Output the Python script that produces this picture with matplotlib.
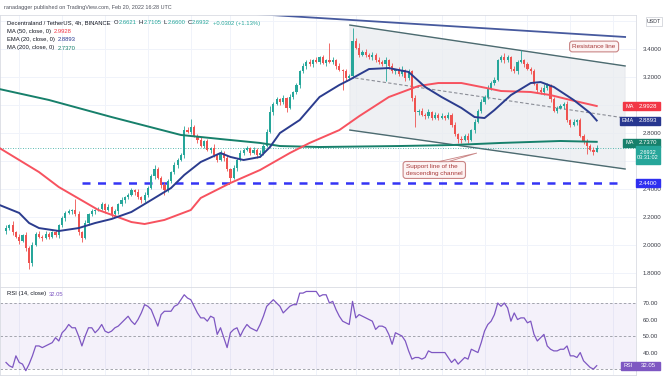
import matplotlib
matplotlib.use("Agg")
import matplotlib.pyplot as plt
from matplotlib.patches import Rectangle, Polygon

plt.rcParams['font.family'] = ['Liberation Sans', 'DejaVu Sans']

# ---- data (4h candles) ----
first_open = 2.10
closes = [2.12, 2.14, 2.09, 2.06, 2.03, 2.07, 1.98, 1.87, 2.00, 2.08,
          2.06, 2.05, 2.08, 2.06, 2.09, 2.07, 2.14, 2.19, 2.23, 2.24,
          2.25, 2.22, 2.09, 2.05, 2.16, 2.22, 2.24, 2.25, 2.26, 2.29,
          2.25, 2.27, 2.22, 2.24, 2.29, 2.32, 2.34, 2.36, 2.39, 2.38,
          2.34, 2.32, 2.36, 2.41, 2.49, 2.54, 2.48, 2.43, 2.39, 2.46,
          2.52, 2.57, 2.61, 2.64, 2.82, 2.81, 2.84, 2.78, 2.75, 2.71,
          2.74, 2.68, 2.69, 2.64, 2.61, 2.66, 2.62, 2.54, 2.48, 2.55,
          2.61, 2.66, 2.68, 2.69, 2.66, 2.68, 2.64, 2.66, 2.71, 2.81,
          2.95, 3.01, 3.04, 3.02, 3.05, 2.98, 3.06, 3.09, 3.14, 3.24,
          3.28, 3.31, 3.29, 3.32, 3.31, 3.34, 3.30, 3.32, 3.31, 3.32,
          3.28, 3.25, 3.24, 3.19, 3.21, 3.46, 3.41, 3.36, 3.38, 3.36,
          3.34, 3.36, 3.32, 3.31, 3.29, 3.32, 3.28, 3.24, 3.25, 3.22,
          3.25, 3.19, 3.24, 3.05, 2.95, 2.96, 2.93, 2.92, 2.95, 2.91,
          2.93, 2.91, 2.92, 2.91, 2.93, 2.86, 2.79, 2.76, 2.75, 2.78,
          2.75, 2.82, 2.88, 2.96, 3.02, 3.06, 3.12, 3.16, 3.18, 3.32,
          3.34, 3.32, 3.34, 3.26, 3.24, 3.31, 3.32, 3.29, 3.26, 3.24,
          3.15, 3.11, 3.09, 3.12, 3.14, 3.04, 2.96, 2.98, 2.99, 3.01,
          2.89, 2.86, 2.88, 2.89, 2.78, 2.74, 2.71, 2.68, 2.6621, 2.6932]
# wick lengths above / below the body, in hundredths
upper_wick = [2, 1, 3, 1, 2, 1, 2, 1, 2, 1, 2, 1, 2, 1, 1, 2, 1, 2, 1, 2,
              1, 8, 2, 1, 2, 1, 2, 1, 1, 2, 1, 2, 1, 2, 1, 2, 1, 1, 2, 1,
              2, 1, 2, 1, 2, 3, 2, 1, 2, 1, 1, 2, 1, 2, 3, 2, 6, 2, 1, 2,
              1, 2, 1, 3, 1, 2, 1, 2, 1, 2, 1, 2, 1, 2, 1, 2, 1, 2, 1, 2,
              4, 1, 2, 1, 2, 1, 2, 1, 2, 1, 2, 1, 2, 1, 2, 1, 2, 1, 12, 2,
              1, 2, 1, 2, 1, 9, 2, 3, 1, 2, 1, 2, 1, 2, 1, 2, 1, 2, 1, 2,
              3, 1, 2, 1, 2, 1, 2, 1, 2, 1, 2, 1, 2, 1, 2, 1, 2, 1, 2, 1,
              2, 1, 2, 1, 2, 1, 2, 1, 2, 1, 2, 3, 2, 1, 2, 1, 7, 1, 2, 1,
              2, 1, 2, 3, 2, 1, 2, 1, 2, 1, 2, 1, 2, 1, 2, 1, 2, 1, 2, 2]
lower_wick = [2, 1, 2, 1, 2, 1, 2, 4, 2, 1, 1, 2, 1, 2, 1, 1, 2, 1, 2, 1,
              2, 1, 2, 3, 1, 2, 1, 2, 1, 1, 2, 1, 2, 1, 2, 1, 2, 1, 1, 2,
              1, 2, 1, 2, 1, 2, 1, 2, 3, 1, 2, 1, 2, 1, 2, 1, 2, 1, 2, 1,
              2, 1, 2, 1, 2, 1, 2, 1, 4, 1, 2, 1, 2, 1, 2, 1, 2, 1, 2, 1,
              1, 2, 1, 2, 1, 3, 1, 2, 1, 2, 1, 2, 1, 2, 1, 2, 1, 2, 1, 2,
              2, 1, 13, 2, 1, 2, 1, 2, 1, 2, 1, 2, 1, 2, 1, 12, 2, 1, 2, 1,
              1, 2, 1, 2, 11, 2, 1, 2, 1, 2, 1, 2, 1, 2, 1, 2, 1, 3, 2, 1,
              2, 1, 2, 1, 2, 1, 2, 1, 2, 1, 1, 2, 1, 2, 1, 2, 1, 2, 1, 2,
              1, 2, 1, 2, 1, 2, 1, 2, 1, 2, 1, 2, 1, 2, 1, 2, 6, 1, 2, 0]
rsi = [34, 32, 31, 38, 34, 33, 29, 33, 38, 44,
       44, 43, 44, 45, 46, 49, 47, 52, 54, 57,
       55, 55, 50, 44, 50, 55, 55, 52, 54, 57,
       53, 52, 53, 55, 56, 58, 60, 62, 59, 57,
       60, 64, 69, 68, 66, 61, 56, 63, 65, 65,
       65, 68, 69, 72, 75, 73, 72, 68, 64, 61,
       61, 59, 62, 61, 51, 55, 49, 43, 52, 54,
       55, 50, 54, 57, 55, 54, 53, 57, 62, 68,
       70, 72, 70, 68, 64, 66, 68, 69, 69, 76,
       76, 77, 77, 77, 77, 74, 75, 75, 70, 71,
       66, 62, 59, 58, 57, 71, 61, 63, 62, 61,
       60, 59, 54, 56, 56, 55, 51, 45, 52, 51,
       50, 47, 41, 36, 37, 37, 36, 37, 41, 40,
       40, 40, 40, 40, 37, 34, 36, 33, 35, 37,
       36, 42, 41, 40, 46, 53, 57, 59, 63, 70,
       68, 70, 67, 59, 64, 60, 61, 61, 58, 59,
       51, 47, 49, 51, 44, 42, 41, 41, 42, 42,
       44, 38, 38, 37, 40, 35, 33, 31, 30, 32.05]

ma50_x = [-2, 10, 16, 28, 38, 42, 48, 56, 59, 68, 77, 86, 92, 101, 107,
          116, 125, 131, 138, 144, 150, 159, 165, 171, 179]
ma50 = [2.693, 2.521, 2.414, 2.25, 2.164, 2.15, 2.179, 2.25, 2.336, 2.443,
        2.536, 2.657, 2.729, 2.821, 2.92, 3.057, 3.136, 3.157, 3.157, 3.129,
        3.10, 3.093, 3.071, 3.036, 2.9928]
ema20_x = [-2, 4, 7, 10, 16, 22, 27, 32, 38, 44, 50, 54, 59, 65, 68, 72, 77,
           80, 83, 89, 95, 101, 104, 110, 116, 122, 127, 132, 138, 142, 145,
           148, 153, 159, 162, 166, 172, 177, 179]
ema20 = [2.286, 2.229, 2.157, 2.121, 2.10, 2.121, 2.157, 2.186, 2.236, 2.321,
         2.407, 2.50, 2.593, 2.657, 2.629, 2.607, 2.629, 2.70, 2.80, 2.893,
         3.057, 3.143, 3.179, 3.257, 3.264, 3.236, 3.129, 3.057, 2.979, 2.914,
         2.907, 2.964, 3.071, 3.157, 3.164, 3.129, 3.036, 2.943, 2.8893]
ma200_x = [-2, 13, 32, 53, 65, 77, 83, 95, 119, 135, 150, 168, 179]
ma200 = [3.114, 3.036, 2.914, 2.786, 2.757, 2.729, 2.707, 2.70, 2.707, 2.714,
         2.729, 2.743, 2.737]

support_level = 2.44
last_price = 2.6932
channel_x = [104.2, 187.6]
channel_top = [3.571, 3.279]
channel_bottom = [2.821, 2.543]
channel_mid_x = [105.8, 187.6]
channel_mid = [3.193, 2.907]
resist_x = [75.5, 187.6]
resist = [3.65, 3.486]
price_ticks = [1.8, 2.0, 2.2, 2.4, 2.8, 3.2, 3.4]
price_grid = [1.8, 2.0, 2.2, 2.4, 2.6, 2.8, 3.0, 3.2, 3.4, 3.6]
rsi_ticks = [40, 50, 60, 70]

UP, DOWN = '#26a69a', '#ef5350'
W, H = 663, 377

fig = plt.figure(figsize=(W / 100, H / 100), dpi=100)
fig.patch.set_facecolor('white')
ax = fig.add_axes([0, 1 - 287 / H, 636 / W, (287 - 15) / H])
ax2 = fig.add_axes([0, 1 - 375 / H, 636 / W, (375 - 287) / H], sharex=ax)

ax.set_xlim(-1.82, 190.9)
ax.set_ylim(1.70, 3.643)
ax2.set_ylim(26.4, 79.7)

grid_x = [4, 17, 30, 43, 56, 68, 81, 94, 106, 119, 132, 145, 158, 171, 184]
for a in (ax, ax2):
    for gx in grid_x:
        a.axvline(gx, color='#f0f3fa', lw=0.7, zorder=0)
    for s in a.spines.values():
        s.set_color('#d9dce3')
        s.set_linewidth(0.6)
    a.tick_params(axis='x', bottom=False, labelbottom=False)
    a.yaxis.tick_right()
    a.tick_params(axis='y', length=0, pad=5, labelsize=4.4, labelcolor='#3a3d47')

for p in price_grid:
    ax.axhline(p, color='#f0f3fa', lw=0.7, zorder=0)
ax.set_yticks(price_ticks)
ax.set_yticklabels(['%.4f' % p for p in price_ticks])

# channel
ax.add_patch(Polygon([(channel_x[0], channel_top[0]), (channel_x[1], channel_top[1]),
                      (channel_x[1], channel_bottom[1]), (channel_x[0], channel_bottom[0])],
                     closed=True, facecolor='#e9ebf0', edgecolor='#dfe2e8', lw=0.6,
                     alpha=0.75, zorder=1))
ax.plot(channel_x, channel_top, color='#4c6b70', lw=1.0, zorder=2)
ax.plot(channel_x, channel_bottom, color='#4c6b70', lw=1.0, zorder=2)
ax.plot(channel_mid_x, channel_mid, color='#8a8d96', lw=0.8, ls=(0, (3, 2)), zorder=2)
ax.plot(resist_x, resist, color='#46599e', lw=1.3, zorder=2)

# horizontal levels
ax.plot([23, 186], [support_level, support_level], color='#3434f5', lw=1.8,
        dashes=(3.2, 3.0), zorder=2)
ax.axhline(last_price, color=UP, lw=0.6, ls=(0, (1, 2)), zorder=2)

# candles
opens = [first_open] + closes[:-1]
idx = list(range(len(closes)))
cols = [UP if c >= o else DOWN for o, c in zip(opens, closes)]
lows = [min(o, c) - l / 100 for o, c, l in zip(opens, closes, lower_wick)]
highs = [max(o, c) + u / 100 for o, c, u in zip(opens, closes, upper_wick)]
ax.vlines(idx, lows, highs, colors=cols, lw=0.6, zorder=3)
ax.bar(idx, [max(abs(c - o), 0.004) for o, c in zip(opens, closes)],
       bottom=[min(o, c) for o, c in zip(opens, closes)], width=0.66,
       color=cols, zorder=3)

# moving averages
ax.plot(ma200_x, ma200, color='#17806b', lw=1.4, zorder=4)
ax.plot(ma50_x, ma50, color='#f7525f', lw=1.4, zorder=4)
ax.plot(ema20_x, ema20, color='#2b3c8e', lw=1.4, zorder=4)

# callouts
ax.text(178.2, 3.418, 'Resistance line', fontsize=4.6, color='#a83a3a',
        ha='center', va='center', zorder=6,
        bbox=dict(boxstyle='round,pad=0.45', fc='#fdf3f3', ec='#c98585', lw=0.8))
ax.text(121.2, 2.536, 'Support line of the\ndescending channel', fontsize=4.6,
        color='#a83a3a', ha='left', va='center', zorder=6, linespacing=1.3,
        bbox=dict(boxstyle='round,pad=0.45', fc='#fdf3f3', ec='#c98585', lw=0.8))
ax.add_patch(Polygon([(131, 2.595), (134, 2.595), (142.7, 2.657)], closed=True,
                     fc='#fdf3f3', ec='#c98585', lw=0.6, zorder=6))

# RSI panel
ax2.axhspan(30, 70, color='#7e57c2', alpha=0.08, lw=0, zorder=0)
for lvl in (30, 50, 70):
    ax2.axhline(lvl, color='#9598a1', lw=0.6, ls=(0, (3, 2.5)), zorder=1)
ax2.plot(idx, rsi, color='#7e57c2', lw=0.9, zorder=3)
ax2.set_yticks(rsi_ticks)
ax2.set_yticklabels(['%.2f' % r for r in rsi_ticks])


def tag(a, value, text, color, tag_text=None, tag_x=623, dy=0, h=8, size=4.3):
    yd = a.transData.transform((0, value))[1] - dy
    fig.add_artist(Rectangle((636 / W, (yd - h / 2) / H), 24 / W, h / H,
                             transform=fig.transFigure, color=color, zorder=10))
    fig.text(648 / W, yd / H, text, ha='center', va='center', color='white',
             fontsize=size, linespacing=1.2, zorder=11)
    if tag_text:
        fig.add_artist(Rectangle((tag_x / W, (yd - h / 2) / H), (635.5 - tag_x) / W,
                                 h / H, transform=fig.transFigure, color=color, zorder=10))
        fig.text((tag_x + 635.5) / 2 / W, yd / H, tag_text, ha='center', va='center',
                 color='white', fontsize=4.0, zorder=11)


fig.canvas.draw()
tag(ax, 2.9928, '2.9928', '#f23645', 'MA')
tag(ax, 2.8893, '2.8893', '#27368f', 'EMA', tag_x=620)
tag(ax, 2.737, '2.7370', '#17806b', 'MA', dy=1)
tag(ax, last_price, '2.6932\n03:31:02', UP, dy=7, h=18, size=4.0)
tag(ax, support_level, '2.4400', '#2f2ff0')
tag(ax2, 32.05, '32.05', '#7e57c2', 'RSI', tag_x=621)

# USDT box
fig.add_artist(Rectangle((646 / W, 1 - 26 / H), 16 / W, 9 / H, transform=fig.transFigure,
                         fc='white', ec='#c9ccd3', lw=0.5, zorder=10))
fig.text(654 / W, 1 - 21.5 / H, 'USDT', ha='center', va='center', fontsize=3.8,
         color='#3a3d47', zorder=11)

# header and legend texts, placed one after another
renderer = fig.canvas.get_renderer()


def ftext(x, y, s, color, size=4.2, gap=2.0):
    t = fig.text(x / W, 1 - y / H, s, ha='left', va='center', color=color, fontsize=size)
    return t.get_window_extent(renderer).x1 + gap


ftext(4, 8, 'ranadagger published on TradingView.com, Feb 20, 2022 16:28 UTC', '#50535e',
      size=4.0)
x = ftext(7, 23, 'Decentraland / TetherUS, 4h, BINANCE', '#131722', gap=3)
for lab, val in [('O', '2.6621'), ('H', '2.7105'), ('L', '2.6600'), ('C', '2.6932')]:
    x = ftext(x, 23, lab, '#131722', gap=0.3)
    x = ftext(x, 23, val, UP, gap=2.5)
ftext(x, 23, '+0.0302 (+1.13%)', UP)
for y, name, val, col in [(31.5, 'MA (50, close, 0)', '2.9928', '#f23645'),
                          (39.5, 'EMA (20, close, 0)', '2.8893', '#27368f'),
                          (48, 'MA (200, close, 0)', '2.7370', '#17806b'),
                          (294, 'RSI (14, close)', '32.05', '#7e57c2')]:
    x = ftext(7, y, name, '#131722', gap=3)
    ftext(x, y, val, col)

fig.savefig('out.png', dpi=100)
